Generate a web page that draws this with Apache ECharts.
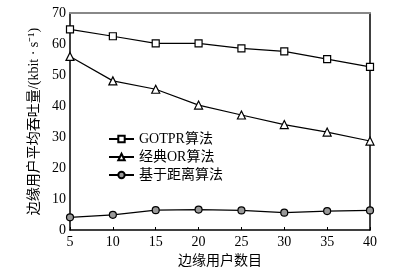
<!DOCTYPE html>
<html>
<head>
<meta charset="utf-8">
<script src="https://cdn.jsdelivr.net/npm/echarts@6/dist/echarts.min.js"></script>
<style>
  html, body { margin: 0; padding: 0; background: #fff; }
  #main { width: 395px; height: 273px; }
</style>
</head>
<body>
<div id="main"></div>
<script>
// user counts on x axis
var userCounts = [5, 10, 15, 20, 25, 30, 35, 40];
var gotprVals = [64.7, 62.5, 60.2, 60.2, 58.6, 57.6, 55.1, 52.6];
var classicOrVals = [56.0, 48.1, 45.4, 40.3, 37.1, 34.0, 31.6, 28.7];
var distanceVals = [4.1, 4.9, 6.4, 6.6, 6.3, 5.6, 6.1, 6.3];
var seriesNames = ['GOTPR算法', '经典OR算法', '基于距离算法'];

var fontFam = '"Liberation Serif", "Noto Sans CJK SC", serif';

function pairs(vals) {
  return userCounts.map(function (x, i) { return [x, vals[i]]; });
}

var chart = echarts.init(document.getElementById('main'));
var lineStyle = { color: '#000', width: 1.2 };

chart.setOption({
  animation: false,
  backgroundColor: '#fff',
  textStyle: { fontFamily: fontFam, color: '#000' },
  grid: { left: 70, right: 25, top: 13, bottom: 43 },
  legend: {
    orient: 'vertical',
    left: 103,
    top: 127,
    itemWidth: 25,
    itemHeight: 8,
    itemGap: 4,
    textStyle: { fontFamily: fontFam, fontSize: 14, color: '#000' },
    data: seriesNames
  },
  xAxis: [{
    type: 'value',
    min: 5, max: 40, interval: 5,
    name: '边缘用户数目',
    nameLocation: 'middle',
    nameGap: 24,
    nameTextStyle: { fontFamily: fontFam, fontSize: 14, color: '#000' },
    axisLine: { lineStyle: { color: '#000', width: 1.5 } },
    axisTick: { inside: true, length: 3, lineStyle: { color: '#000' } },
    axisLabel: { fontFamily: fontFam, fontSize: 14, color: '#000', margin: 5 },
    splitLine: { show: false }
  }, {
    type: 'value', position: 'top',
    min: 5, max: 40,
    axisLine: { show: true, onZero: false, lineStyle: { color: '#888', width: 2 } },
    axisTick: { show: false }, axisLabel: { show: false }, splitLine: { show: false }
  }],
  yAxis: [{
    type: 'value',
    min: 0, max: 70, interval: 10,
    name: '边缘用户平均吞吐量/(kbit · s⁻¹)',
    nameLocation: 'middle',
    nameGap: 29,
    nameTextStyle: { fontFamily: fontFam, fontSize: 14, color: '#000' },
    axisLine: { show: true, lineStyle: { color: '#000', width: 1.5 } },
    axisTick: { show: false },
    axisLabel: { fontFamily: fontFam, fontSize: 14, color: '#000', margin: 4 },
    splitLine: { show: false }
  }, {
    type: 'value', position: 'right',
    min: 0, max: 70,
    axisLine: { show: true, onZero: false, lineStyle: { color: '#000', width: 1.5 } },
    axisTick: { show: false }, axisLabel: { show: false }, splitLine: { show: false }
  }],
  series: [{
    name: seriesNames[0], type: 'line',
    data: pairs(gotprVals),
    symbol: 'rect', symbolSize: 7,
    itemStyle: { color: '#fff', borderColor: '#000', borderWidth: 1.2 },
    lineStyle: lineStyle
  }, {
    name: seriesNames[1], type: 'line',
    data: pairs(classicOrVals),
    symbol: 'triangle', symbolSize: 8,
    itemStyle: { color: '#fff', borderColor: '#000', borderWidth: 1.2 },
    lineStyle: lineStyle
  }, {
    name: seriesNames[2], type: 'line',
    data: pairs(distanceVals),
    symbol: 'circle', symbolSize: 7,
    itemStyle: { color: '#999', borderColor: '#000', borderWidth: 1.2 },
    lineStyle: lineStyle
  }]
});
</script>
</body>
</html>
